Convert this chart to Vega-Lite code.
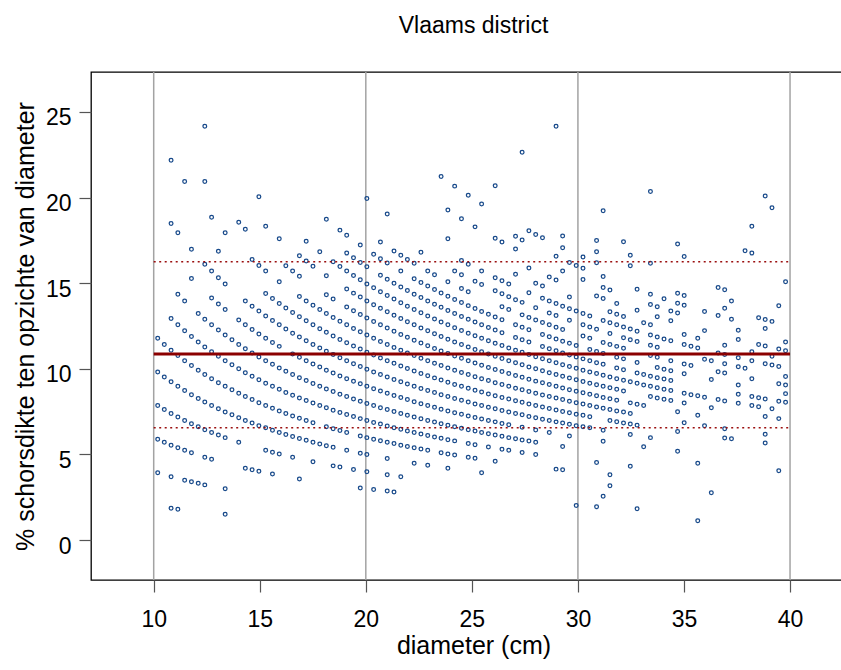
{
"$schema": "https://vega.github.io/schema/vega-lite/v6.json",
"width": 765,
"height": 508,
"autosize": {"type": "none"},
"padding": {"left": 91, "top": 72, "right": -15, "bottom": 90},
"background": "white",
"title": {"text": "Vlaams district", "font": "Liberation Sans", "fontSize": 23, "fontWeight": "normal", "color": "black", "anchor": "middle", "frame": "group", "baseline": "alphabetic", "offset": 15},
"config": {
  "view": {"stroke": "black", "strokeWidth": 1.3},
  "axis": {"domain": false, "grid": false, "tickColor": "#555555", "tickWidth": 1.2, "tickSize": 12, "labelFont": "Liberation Sans", "labelFontSize": 23, "labelColor": "black", "titleFont": "Liberation Sans", "titleFontSize": 25, "titleFontWeight": "normal", "titleColor": "black", "labelOverlap": false, "labelFlush": false}
},
"datasets": {
"pts": [
{"d":10.19,"p":3.93},{"d":10.19,"p":5.89},{"d":10.19,"p":7.85},{"d":10.19,"p":9.82},{"d":10.19,"p":11.78},
{"d":10.50,"p":5.71},{"d":10.50,"p":7.62},{"d":10.50,"p":9.52},{"d":10.50,"p":11.42},
{"d":10.82,"p":1.85},{"d":10.82,"p":3.70},{"d":10.82,"p":5.54},{"d":10.82,"p":7.39},{"d":10.82,"p":9.24},{"d":10.82,"p":11.09},{"d":10.82,"p":12.94},{"d":10.82,"p":18.48},{"d":10.82,"p":22.18},
{"d":11.14,"p":1.80},{"d":11.14,"p":5.39},{"d":11.14,"p":7.18},{"d":11.14,"p":8.98},{"d":11.14,"p":10.77},{"d":11.14,"p":12.57},{"d":11.14,"p":14.36},{"d":11.14,"p":17.95},
{"d":11.46,"p":3.49},{"d":11.46,"p":5.24},{"d":11.46,"p":6.98},{"d":11.46,"p":8.73},{"d":11.46,"p":10.47},{"d":11.46,"p":12.22},{"d":11.46,"p":13.96},{"d":11.46,"p":20.94},
{"d":11.78,"p":3.40},{"d":11.78,"p":5.09},{"d":11.78,"p":6.79},{"d":11.78,"p":8.49},{"d":11.78,"p":10.19},{"d":11.78,"p":11.89},{"d":11.78,"p":15.28},{"d":11.78,"p":16.98},
{"d":12.10,"p":3.31},{"d":12.10,"p":6.61},{"d":12.10,"p":8.27},{"d":12.10,"p":9.92},{"d":12.10,"p":11.57},{"d":12.10,"p":13.23},
{"d":12.41,"p":3.22},{"d":12.41,"p":4.83},{"d":12.41,"p":6.44},{"d":12.41,"p":8.06},{"d":12.41,"p":9.67},{"d":12.41,"p":11.28},{"d":12.41,"p":12.89},{"d":12.41,"p":16.11},{"d":12.41,"p":20.94},{"d":12.41,"p":24.17},
{"d":12.73,"p":4.71},{"d":12.73,"p":6.28},{"d":12.73,"p":7.85},{"d":12.73,"p":9.42},{"d":12.73,"p":11.00},{"d":12.73,"p":12.57},{"d":12.73,"p":14.14},{"d":12.73,"p":15.71},{"d":12.73,"p":18.85},
{"d":13.05,"p":6.13},{"d":13.05,"p":7.66},{"d":13.05,"p":9.19},{"d":13.05,"p":10.73},{"d":13.05,"p":12.26},{"d":13.05,"p":13.79},{"d":13.05,"p":15.32},{"d":13.05,"p":16.86},
{"d":13.37,"p":1.50},{"d":13.37,"p":2.99},{"d":13.37,"p":5.98},{"d":13.37,"p":7.48},{"d":13.37,"p":8.98},{"d":13.37,"p":10.47},{"d":13.37,"p":11.97},{"d":13.37,"p":13.46},{"d":13.37,"p":14.96},{"d":13.37,"p":17.95},
{"d":13.69,"p":7.31},{"d":13.69,"p":8.77},{"d":13.69,"p":10.23},{"d":13.69,"p":11.69},
{"d":14.01,"p":5.71},{"d":14.01,"p":7.14},{"d":14.01,"p":8.57},{"d":14.01,"p":10.00},{"d":14.01,"p":11.42},{"d":14.01,"p":12.85},{"d":14.01,"p":18.56},
{"d":14.32,"p":4.19},{"d":14.32,"p":6.98},{"d":14.32,"p":8.38},{"d":14.32,"p":9.77},{"d":14.32,"p":11.17},{"d":14.32,"p":12.57},{"d":14.32,"p":13.96},{"d":14.32,"p":18.15},
{"d":14.64,"p":4.10},{"d":14.64,"p":6.83},{"d":14.64,"p":8.20},{"d":14.64,"p":9.56},{"d":14.64,"p":10.93},{"d":14.64,"p":12.29},{"d":14.64,"p":13.66},{"d":14.64,"p":16.39},
{"d":14.96,"p":4.01},{"d":14.96,"p":6.68},{"d":14.96,"p":8.02},{"d":14.96,"p":9.36},{"d":14.96,"p":10.69},{"d":14.96,"p":12.03},{"d":14.96,"p":13.37},{"d":14.96,"p":16.04},{"d":14.96,"p":20.05},
{"d":15.28,"p":5.24},{"d":15.28,"p":6.55},{"d":15.28,"p":7.85},{"d":15.28,"p":9.16},{"d":15.28,"p":10.47},{"d":15.28,"p":11.78},{"d":15.28,"p":13.09},{"d":15.28,"p":14.40},{"d":15.28,"p":15.71},{"d":15.28,"p":18.33},
{"d":15.60,"p":3.85},{"d":15.60,"p":5.13},{"d":15.60,"p":6.41},{"d":15.60,"p":7.69},{"d":15.60,"p":8.98},{"d":15.60,"p":10.26},{"d":15.60,"p":11.54},{"d":15.60,"p":12.82},{"d":15.60,"p":14.11},
{"d":15.92,"p":5.03},{"d":15.92,"p":6.28},{"d":15.92,"p":7.54},{"d":15.92,"p":8.80},{"d":15.92,"p":10.05},{"d":15.92,"p":11.31},{"d":15.92,"p":12.57},{"d":15.92,"p":13.82},{"d":15.92,"p":15.08},{"d":15.92,"p":17.59},
{"d":16.23,"p":6.16},{"d":16.23,"p":7.39},{"d":16.23,"p":8.62},{"d":16.23,"p":9.86},{"d":16.23,"p":12.32},{"d":16.23,"p":13.55},{"d":16.23,"p":16.02},
{"d":16.55,"p":4.83},{"d":16.55,"p":6.04},{"d":16.55,"p":7.25},{"d":16.55,"p":8.46},{"d":16.55,"p":9.67},{"d":16.55,"p":10.87},{"d":16.55,"p":12.08},{"d":16.55,"p":13.29},{"d":16.55,"p":15.71},
{"d":16.87,"p":3.56},{"d":16.87,"p":5.93},{"d":16.87,"p":7.11},{"d":16.87,"p":8.30},{"d":16.87,"p":9.48},{"d":16.87,"p":10.67},{"d":16.87,"p":11.86},{"d":16.87,"p":13.04},{"d":16.87,"p":14.23},{"d":16.87,"p":15.41},{"d":16.87,"p":16.60},
{"d":17.19,"p":5.82},{"d":17.19,"p":6.98},{"d":17.19,"p":8.15},{"d":17.19,"p":9.31},{"d":17.19,"p":10.47},{"d":17.19,"p":11.64},{"d":17.19,"p":12.80},{"d":17.19,"p":13.96},{"d":17.19,"p":16.29},{"d":17.19,"p":17.45},
{"d":17.51,"p":4.57},{"d":17.51,"p":5.71},{"d":17.51,"p":6.85},{"d":17.51,"p":8.00},{"d":17.51,"p":9.14},{"d":17.51,"p":10.28},{"d":17.51,"p":11.42},{"d":17.51,"p":12.57},{"d":17.51,"p":13.71},{"d":17.51,"p":15.99},
{"d":17.83,"p":5.61},{"d":17.83,"p":7.85},{"d":17.83,"p":8.98},{"d":17.83,"p":10.10},{"d":17.83,"p":11.22},{"d":17.83,"p":12.34},{"d":17.83,"p":13.46},{"d":17.83,"p":16.83},
{"d":18.14,"p":5.51},{"d":18.14,"p":6.61},{"d":18.14,"p":7.72},{"d":18.14,"p":8.82},{"d":18.14,"p":9.92},{"d":18.14,"p":11.02},{"d":18.14,"p":12.13},{"d":18.14,"p":13.23},{"d":18.14,"p":14.33},{"d":18.14,"p":15.43},{"d":18.14,"p":18.74},
{"d":18.46,"p":4.33},{"d":18.46,"p":5.42},{"d":18.46,"p":6.50},{"d":18.46,"p":7.58},{"d":18.46,"p":8.67},{"d":18.46,"p":9.75},{"d":18.46,"p":10.83},{"d":18.46,"p":11.92},{"d":18.46,"p":13.00},{"d":18.46,"p":14.08},{"d":18.46,"p":16.25},
{"d":18.78,"p":4.26},{"d":18.78,"p":6.39},{"d":18.78,"p":7.45},{"d":18.78,"p":8.52},{"d":18.78,"p":9.58},{"d":18.78,"p":10.65},{"d":18.78,"p":11.71},{"d":18.78,"p":12.78},{"d":18.78,"p":15.97},{"d":18.78,"p":18.10},
{"d":19.10,"p":5.24},{"d":19.10,"p":6.28},{"d":19.10,"p":7.33},{"d":19.10,"p":8.38},{"d":19.10,"p":9.42},{"d":19.10,"p":10.47},{"d":19.10,"p":11.52},{"d":19.10,"p":12.57},{"d":19.10,"p":13.61},{"d":19.10,"p":14.66},{"d":19.10,"p":15.71},{"d":19.10,"p":16.76},{"d":19.10,"p":17.80},
{"d":19.42,"p":4.12},{"d":19.42,"p":7.21},{"d":19.42,"p":8.24},{"d":19.42,"p":9.27},{"d":19.42,"p":10.30},{"d":19.42,"p":11.33},{"d":19.42,"p":12.36},{"d":19.42,"p":13.39},{"d":19.42,"p":14.42},{"d":19.42,"p":15.45},{"d":19.42,"p":16.48},
{"d":19.74,"p":3.04},{"d":19.74,"p":5.07},{"d":19.74,"p":6.08},{"d":19.74,"p":7.09},{"d":19.74,"p":8.11},{"d":19.74,"p":9.12},{"d":19.74,"p":10.13},{"d":19.74,"p":11.15},{"d":19.74,"p":12.16},{"d":19.74,"p":13.17},{"d":19.74,"p":14.19},{"d":19.74,"p":15.20},{"d":19.74,"p":16.21},{"d":19.74,"p":17.23},
{"d":20.05,"p":3.99},{"d":20.05,"p":4.99},{"d":20.05,"p":5.98},{"d":20.05,"p":6.98},{"d":20.05,"p":7.98},{"d":20.05,"p":8.98},{"d":20.05,"p":9.97},{"d":20.05,"p":10.97},{"d":20.05,"p":11.97},{"d":20.05,"p":12.97},{"d":20.05,"p":13.96},{"d":20.05,"p":14.96},{"d":20.05,"p":15.96},{"d":20.05,"p":19.95},
{"d":20.37,"p":2.95},{"d":20.37,"p":5.89},{"d":20.37,"p":6.87},{"d":20.37,"p":7.85},{"d":20.37,"p":8.84},{"d":20.37,"p":9.82},{"d":20.37,"p":10.80},{"d":20.37,"p":11.78},{"d":20.37,"p":12.76},{"d":20.37,"p":13.74},{"d":20.37,"p":14.73},{"d":20.37,"p":16.69},
{"d":20.69,"p":5.80},{"d":20.69,"p":6.77},{"d":20.69,"p":7.73},{"d":20.69,"p":8.70},{"d":20.69,"p":9.67},{"d":20.69,"p":10.63},{"d":20.69,"p":11.60},{"d":20.69,"p":12.57},{"d":20.69,"p":13.53},{"d":20.69,"p":14.50},{"d":20.69,"p":15.47},{"d":20.69,"p":16.43},{"d":20.69,"p":17.40},
{"d":21.01,"p":2.86},{"d":21.01,"p":3.81},{"d":21.01,"p":4.76},{"d":21.01,"p":5.71},{"d":21.01,"p":6.66},{"d":21.01,"p":7.62},{"d":21.01,"p":8.57},{"d":21.01,"p":9.52},{"d":21.01,"p":10.47},{"d":21.01,"p":11.42},{"d":21.01,"p":12.38},{"d":21.01,"p":13.33},{"d":21.01,"p":14.28},{"d":21.01,"p":15.23},{"d":21.01,"p":16.18},{"d":21.01,"p":19.04},
{"d":21.33,"p":2.81},{"d":21.33,"p":5.63},{"d":21.33,"p":6.56},{"d":21.33,"p":7.50},{"d":21.33,"p":8.44},{"d":21.33,"p":9.38},{"d":21.33,"p":10.32},{"d":21.33,"p":11.25},{"d":21.33,"p":12.19},{"d":21.33,"p":13.13},{"d":21.33,"p":14.07},{"d":21.33,"p":15.00},{"d":21.33,"p":16.88},
{"d":21.65,"p":3.70},{"d":21.65,"p":5.54},{"d":21.65,"p":6.47},{"d":21.65,"p":7.39},{"d":21.65,"p":8.32},{"d":21.65,"p":9.24},{"d":21.65,"p":10.16},{"d":21.65,"p":11.09},{"d":21.65,"p":12.01},{"d":21.65,"p":12.94},{"d":21.65,"p":13.86},{"d":21.65,"p":14.78},{"d":21.65,"p":15.71},{"d":21.65,"p":16.63},
{"d":21.96,"p":5.46},{"d":21.96,"p":6.37},{"d":21.96,"p":7.28},{"d":21.96,"p":8.20},{"d":21.96,"p":9.11},{"d":21.96,"p":10.02},{"d":21.96,"p":10.93},{"d":21.96,"p":11.84},{"d":21.96,"p":12.75},{"d":21.96,"p":13.66},{"d":21.96,"p":14.57},{"d":21.96,"p":16.39},
{"d":22.28,"p":4.49},{"d":22.28,"p":5.39},{"d":22.28,"p":6.28},{"d":22.28,"p":7.18},{"d":22.28,"p":8.08},{"d":22.28,"p":8.98},{"d":22.28,"p":9.87},{"d":22.28,"p":10.77},{"d":22.28,"p":11.67},{"d":22.28,"p":12.57},{"d":22.28,"p":13.46},{"d":22.28,"p":14.36},{"d":22.28,"p":15.26},{"d":22.28,"p":16.16},
{"d":22.60,"p":5.31},{"d":22.60,"p":6.19},{"d":22.60,"p":7.08},{"d":22.60,"p":7.96},{"d":22.60,"p":8.85},{"d":22.60,"p":9.73},{"d":22.60,"p":10.62},{"d":22.60,"p":11.50},{"d":22.60,"p":12.39},{"d":22.60,"p":13.27},{"d":22.60,"p":14.16},{"d":22.60,"p":15.04},{"d":22.60,"p":16.81},
{"d":22.92,"p":4.36},{"d":22.92,"p":5.24},{"d":22.92,"p":6.11},{"d":22.92,"p":6.98},{"d":22.92,"p":7.85},{"d":22.92,"p":8.73},{"d":22.92,"p":9.60},{"d":22.92,"p":10.47},{"d":22.92,"p":11.34},{"d":22.92,"p":12.22},{"d":22.92,"p":13.09},{"d":22.92,"p":13.96},{"d":22.92,"p":14.84},{"d":22.92,"p":15.71},
{"d":23.24,"p":6.02},{"d":23.24,"p":6.89},{"d":23.24,"p":7.75},{"d":23.24,"p":8.61},{"d":23.24,"p":9.47},{"d":23.24,"p":10.33},{"d":23.24,"p":11.19},{"d":23.24,"p":12.05},{"d":23.24,"p":12.91},{"d":23.24,"p":13.77},{"d":23.24,"p":14.63},{"d":23.24,"p":15.49},
{"d":23.55,"p":5.09},{"d":23.55,"p":5.94},{"d":23.55,"p":6.79},{"d":23.55,"p":7.64},{"d":23.55,"p":8.49},{"d":23.55,"p":9.34},{"d":23.55,"p":10.19},{"d":23.55,"p":11.04},{"d":23.55,"p":11.89},{"d":23.55,"p":12.74},{"d":23.55,"p":13.59},{"d":23.55,"p":14.43},{"d":23.55,"p":21.23},
{"d":23.87,"p":4.19},{"d":23.87,"p":5.03},{"d":23.87,"p":5.86},{"d":23.87,"p":6.70},{"d":23.87,"p":7.54},{"d":23.87,"p":8.38},{"d":23.87,"p":9.22},{"d":23.87,"p":10.05},{"d":23.87,"p":10.89},{"d":23.87,"p":11.73},{"d":23.87,"p":12.57},{"d":23.87,"p":13.40},{"d":23.87,"p":14.24},{"d":23.87,"p":15.08},{"d":23.87,"p":17.59},{"d":23.87,"p":19.27},
{"d":24.19,"p":4.96},{"d":24.19,"p":5.79},{"d":24.19,"p":6.61},{"d":24.19,"p":7.44},{"d":24.19,"p":8.27},{"d":24.19,"p":9.09},{"d":24.19,"p":9.92},{"d":24.19,"p":10.75},{"d":24.19,"p":11.57},{"d":24.19,"p":12.40},{"d":24.19,"p":13.23},{"d":24.19,"p":14.05},{"d":24.19,"p":15.71},{"d":24.19,"p":20.67},
{"d":24.51,"p":6.53},{"d":24.51,"p":7.34},{"d":24.51,"p":8.16},{"d":24.51,"p":8.98},{"d":24.51,"p":9.79},{"d":24.51,"p":10.61},{"d":24.51,"p":11.42},{"d":24.51,"p":12.24},{"d":24.51,"p":13.06},{"d":24.51,"p":13.87},{"d":24.51,"p":14.69},{"d":24.51,"p":15.50},{"d":24.51,"p":16.32},{"d":24.51,"p":18.77},
{"d":24.83,"p":4.83},{"d":24.83,"p":5.64},{"d":24.83,"p":6.44},{"d":24.83,"p":7.25},{"d":24.83,"p":8.06},{"d":24.83,"p":8.86},{"d":24.83,"p":9.67},{"d":24.83,"p":10.47},{"d":24.83,"p":11.28},{"d":24.83,"p":12.08},{"d":24.83,"p":12.89},{"d":24.83,"p":13.69},{"d":24.83,"p":14.50},{"d":24.83,"p":16.11},{"d":24.83,"p":20.14},
{"d":25.15,"p":4.77},{"d":25.15,"p":5.57},{"d":25.15,"p":6.36},{"d":25.15,"p":7.16},{"d":25.15,"p":7.95},{"d":25.15,"p":8.75},{"d":25.15,"p":9.54},{"d":25.15,"p":10.34},{"d":25.15,"p":11.13},{"d":25.15,"p":11.93},{"d":25.15,"p":12.73},{"d":25.15,"p":13.52},{"d":25.15,"p":15.11},{"d":25.15,"p":18.29},
{"d":25.46,"p":3.93},{"d":25.46,"p":6.28},{"d":25.46,"p":7.07},{"d":25.46,"p":7.85},{"d":25.46,"p":8.64},{"d":25.46,"p":9.42},{"d":25.46,"p":10.21},{"d":25.46,"p":11.00},{"d":25.46,"p":11.78},{"d":25.46,"p":12.57},{"d":25.46,"p":13.35},{"d":25.46,"p":14.92},{"d":25.46,"p":15.71},{"d":25.46,"p":19.63},
{"d":25.78,"p":5.43},{"d":25.78,"p":6.21},{"d":25.78,"p":6.98},{"d":25.78,"p":7.76},{"d":25.78,"p":8.53},{"d":25.78,"p":9.31},{"d":25.78,"p":10.08},{"d":25.78,"p":10.86},{"d":25.78,"p":11.64},{"d":25.78,"p":12.41},{"d":25.78,"p":13.19},
{"d":26.10,"p":4.60},{"d":26.10,"p":6.13},{"d":26.10,"p":6.90},{"d":26.10,"p":7.66},{"d":26.10,"p":8.43},{"d":26.10,"p":9.19},{"d":26.10,"p":9.96},{"d":26.10,"p":10.73},{"d":26.10,"p":11.49},{"d":26.10,"p":12.26},{"d":26.10,"p":13.03},{"d":26.10,"p":14.56},{"d":26.10,"p":15.32},{"d":26.10,"p":17.62},{"d":26.10,"p":20.69},
{"d":26.42,"p":5.30},{"d":26.42,"p":6.06},{"d":26.42,"p":6.81},{"d":26.42,"p":7.57},{"d":26.42,"p":8.33},{"d":26.42,"p":9.08},{"d":26.42,"p":9.84},{"d":26.42,"p":10.60},{"d":26.42,"p":11.36},{"d":26.42,"p":12.11},{"d":26.42,"p":12.87},{"d":26.42,"p":13.63},{"d":26.42,"p":14.38},{"d":26.42,"p":15.14},{"d":26.42,"p":17.41},
{"d":26.74,"p":5.24},{"d":26.74,"p":5.98},{"d":26.74,"p":6.73},{"d":26.74,"p":7.48},{"d":26.74,"p":8.23},{"d":26.74,"p":8.98},{"d":26.74,"p":9.72},{"d":26.74,"p":10.47},{"d":26.74,"p":11.22},{"d":26.74,"p":13.46},{"d":26.74,"p":14.21},{"d":26.74,"p":14.96},
{"d":27.06,"p":5.91},{"d":27.06,"p":7.39},{"d":27.06,"p":8.13},{"d":27.06,"p":8.87},{"d":27.06,"p":9.61},{"d":27.06,"p":10.35},{"d":27.06,"p":11.09},{"d":27.06,"p":11.83},{"d":27.06,"p":12.57},{"d":27.06,"p":14.04},{"d":27.06,"p":15.52},{"d":27.06,"p":17.00},{"d":27.06,"p":17.74},
{"d":27.37,"p":5.11},{"d":27.37,"p":5.84},{"d":27.37,"p":6.58},{"d":27.37,"p":7.31},{"d":27.37,"p":8.04},{"d":27.37,"p":8.77},{"d":27.37,"p":9.50},{"d":27.37,"p":10.23},{"d":27.37,"p":10.96},{"d":27.37,"p":11.69},{"d":27.37,"p":12.42},{"d":27.37,"p":13.15},{"d":27.37,"p":13.88},{"d":27.37,"p":17.53},{"d":27.37,"p":22.65},
{"d":27.69,"p":5.78},{"d":27.69,"p":7.22},{"d":27.69,"p":7.94},{"d":27.69,"p":8.67},{"d":27.69,"p":9.39},{"d":27.69,"p":10.11},{"d":27.69,"p":10.83},{"d":27.69,"p":11.56},{"d":27.69,"p":12.28},{"d":27.69,"p":13.00},{"d":27.69,"p":14.44},{"d":27.69,"p":15.89},{"d":27.69,"p":18.06},
{"d":28.01,"p":5.00},{"d":28.01,"p":5.71},{"d":28.01,"p":6.43},{"d":28.01,"p":7.14},{"d":28.01,"p":7.85},{"d":28.01,"p":8.57},{"d":28.01,"p":9.28},{"d":28.01,"p":10.00},{"d":28.01,"p":10.71},{"d":28.01,"p":12.85},{"d":28.01,"p":13.57},{"d":28.01,"p":14.99},{"d":28.01,"p":17.85},
{"d":28.33,"p":7.06},{"d":28.33,"p":7.77},{"d":28.33,"p":8.47},{"d":28.33,"p":9.18},{"d":28.33,"p":9.88},{"d":28.33,"p":10.59},{"d":28.33,"p":11.30},{"d":28.33,"p":12.00},{"d":28.33,"p":12.71},{"d":28.33,"p":14.12},{"d":28.33,"p":14.83},{"d":28.33,"p":17.65},
{"d":28.65,"p":6.28},{"d":28.65,"p":6.98},{"d":28.65,"p":7.68},{"d":28.65,"p":8.38},{"d":28.65,"p":9.08},{"d":28.65,"p":9.77},{"d":28.65,"p":10.47},{"d":28.65,"p":11.17},{"d":28.65,"p":11.87},{"d":28.65,"p":12.57},{"d":28.65,"p":13.26},{"d":28.65,"p":13.96},{"d":28.65,"p":15.36},
{"d":28.97,"p":4.14},{"d":28.97,"p":6.90},{"d":28.97,"p":7.60},{"d":28.97,"p":8.29},{"d":28.97,"p":8.98},{"d":28.97,"p":9.67},{"d":28.97,"p":10.36},{"d":28.97,"p":11.05},{"d":28.97,"p":11.74},{"d":28.97,"p":12.43},{"d":28.97,"p":13.12},{"d":28.97,"p":13.81},{"d":28.97,"p":15.19},{"d":28.97,"p":16.57},{"d":28.97,"p":24.17},
{"d":29.28,"p":4.10},{"d":29.28,"p":5.46},{"d":29.28,"p":6.83},{"d":29.28,"p":7.51},{"d":29.28,"p":8.20},{"d":29.28,"p":8.88},{"d":29.28,"p":9.56},{"d":29.28,"p":10.24},{"d":29.28,"p":10.93},{"d":29.28,"p":11.61},{"d":29.28,"p":12.29},{"d":29.28,"p":13.66},{"d":29.28,"p":15.71},{"d":29.28,"p":17.07},{"d":29.28,"p":17.76},
{"d":29.60,"p":6.08},{"d":29.60,"p":6.76},{"d":29.60,"p":7.43},{"d":29.60,"p":8.11},{"d":29.60,"p":8.78},{"d":29.60,"p":9.46},{"d":29.60,"p":10.13},{"d":29.60,"p":10.81},{"d":29.60,"p":11.49},{"d":29.60,"p":12.84},{"d":29.60,"p":13.51},{"d":29.60,"p":14.19},{"d":29.60,"p":16.21},
{"d":29.92,"p":2.01},{"d":29.92,"p":6.68},{"d":29.92,"p":7.35},{"d":29.92,"p":8.02},{"d":29.92,"p":8.69},{"d":29.92,"p":9.36},{"d":29.92,"p":10.03},{"d":29.92,"p":10.69},{"d":29.92,"p":11.36},{"d":29.92,"p":13.37},{"d":29.92,"p":16.04},
{"d":30.24,"p":6.61},{"d":30.24,"p":7.28},{"d":30.24,"p":7.94},{"d":30.24,"p":8.60},{"d":30.24,"p":9.26},{"d":30.24,"p":9.92},{"d":30.24,"p":10.58},{"d":30.24,"p":11.91},{"d":30.24,"p":12.57},{"d":30.24,"p":13.23},{"d":30.24,"p":15.21},{"d":30.24,"p":15.87},{"d":30.24,"p":16.53},
{"d":30.56,"p":6.55},{"d":30.56,"p":7.20},{"d":30.56,"p":7.85},{"d":30.56,"p":8.51},{"d":30.56,"p":9.16},{"d":30.56,"p":9.82},{"d":30.56,"p":10.47},{"d":30.56,"p":11.13},{"d":30.56,"p":11.78},{"d":30.56,"p":12.44},{"d":30.56,"p":13.09},
{"d":30.88,"p":1.94},{"d":30.88,"p":4.53},{"d":30.88,"p":7.77},{"d":30.88,"p":8.42},{"d":30.88,"p":9.07},{"d":30.88,"p":9.72},{"d":30.88,"p":10.36},{"d":30.88,"p":11.01},{"d":30.88,"p":12.31},{"d":30.88,"p":14.25},{"d":30.88,"p":16.19},{"d":30.88,"p":16.84},{"d":30.88,"p":17.49},
{"d":31.19,"p":2.56},{"d":31.19,"p":5.77},{"d":31.19,"p":6.41},{"d":31.19,"p":7.69},{"d":31.19,"p":8.33},{"d":31.19,"p":8.98},{"d":31.19,"p":9.62},{"d":31.19,"p":10.26},{"d":31.19,"p":10.90},{"d":31.19,"p":11.54},{"d":31.19,"p":12.82},{"d":31.19,"p":14.10},{"d":31.19,"p":14.75},{"d":31.19,"p":15.39},{"d":31.19,"p":19.23},
{"d":31.51,"p":3.17},{"d":31.51,"p":3.81},{"d":31.51,"p":6.98},{"d":31.51,"p":7.62},{"d":31.51,"p":8.25},{"d":31.51,"p":8.89},{"d":31.51,"p":9.52},{"d":31.51,"p":11.42},{"d":31.51,"p":12.06},{"d":31.51,"p":12.69},{"d":31.51,"p":13.33},{"d":31.51,"p":14.60},
{"d":31.83,"p":6.91},{"d":31.83,"p":7.54},{"d":31.83,"p":8.17},{"d":31.83,"p":8.80},{"d":31.83,"p":9.42},{"d":31.83,"p":10.05},{"d":31.83,"p":10.68},{"d":31.83,"p":11.31},{"d":31.83,"p":12.57},{"d":31.83,"p":13.19},{"d":31.83,"p":13.82},
{"d":32.15,"p":6.84},{"d":32.15,"p":7.47},{"d":32.15,"p":8.71},{"d":32.15,"p":9.33},{"d":32.15,"p":9.95},{"d":32.15,"p":10.58},{"d":32.15,"p":11.20},{"d":32.15,"p":11.82},{"d":32.15,"p":12.44},{"d":32.15,"p":13.06},{"d":32.15,"p":17.42},
{"d":32.47,"p":4.31},{"d":32.47,"p":6.16},{"d":32.47,"p":6.78},{"d":32.47,"p":7.39},{"d":32.47,"p":8.01},{"d":32.47,"p":9.24},{"d":32.47,"p":11.70},{"d":32.47,"p":12.32},{"d":32.47,"p":16.02},{"d":32.47,"p":16.63},
{"d":32.79,"p":1.83},{"d":32.79,"p":6.71},{"d":32.79,"p":7.93},{"d":32.79,"p":9.15},{"d":32.79,"p":9.76},{"d":32.79,"p":10.37},{"d":32.79,"p":11.59},{"d":32.79,"p":12.20},{"d":32.79,"p":13.42},{"d":32.79,"p":14.64},
{"d":33.10,"p":5.44},{"d":33.10,"p":7.85},{"d":33.10,"p":9.06},{"d":33.10,"p":9.67},{"d":33.10,"p":12.69},
{"d":33.42,"p":5.98},{"d":33.42,"p":8.38},{"d":33.42,"p":8.98},{"d":33.42,"p":9.57},{"d":33.42,"p":10.77},{"d":33.42,"p":11.37},{"d":33.42,"p":11.97},{"d":33.42,"p":12.57},{"d":33.42,"p":13.76},{"d":33.42,"p":14.36},{"d":33.42,"p":16.16},{"d":33.42,"p":20.35},
{"d":33.74,"p":8.30},{"d":33.74,"p":8.89},{"d":33.74,"p":9.48},{"d":33.74,"p":10.08},{"d":33.74,"p":10.67},{"d":33.74,"p":11.26},{"d":33.74,"p":11.86},{"d":33.74,"p":13.04},{"d":33.74,"p":13.63},
{"d":34.06,"p":8.22},{"d":34.06,"p":8.81},{"d":34.06,"p":9.40},{"d":34.06,"p":9.98},{"d":34.06,"p":11.74},{"d":34.06,"p":14.09},
{"d":34.38,"p":8.15},{"d":34.38,"p":8.73},{"d":34.38,"p":9.31},{"d":34.38,"p":9.89},{"d":34.38,"p":10.47},{"d":34.38,"p":11.64},{"d":34.38,"p":12.80},{"d":34.38,"p":13.38},
{"d":34.70,"p":5.19},{"d":34.70,"p":6.34},{"d":34.70,"p":7.49},{"d":34.70,"p":13.26},{"d":34.70,"p":13.83},{"d":34.70,"p":14.41},{"d":34.70,"p":17.29},
{"d":35.01,"p":6.85},{"d":35.01,"p":8.00},{"d":35.01,"p":8.57},{"d":35.01,"p":9.71},{"d":35.01,"p":10.28},{"d":35.01,"p":11.42},{"d":35.01,"p":12.00},{"d":35.01,"p":13.71},{"d":35.01,"p":14.28},{"d":35.01,"p":16.56},
{"d":35.33,"p":8.49},{"d":35.33,"p":10.19},{"d":35.33,"p":11.32},
{"d":35.65,"p":1.12},{"d":35.65,"p":4.49},{"d":35.65,"p":7.29},{"d":35.65,"p":8.42},{"d":35.65,"p":11.22},{"d":35.65,"p":11.78},
{"d":35.97,"p":6.67},{"d":35.97,"p":8.34},{"d":35.97,"p":10.56},{"d":35.97,"p":12.23},{"d":35.97,"p":13.34},
{"d":36.29,"p":2.76},{"d":36.29,"p":7.72},{"d":36.29,"p":9.37},{"d":36.29,"p":10.47},
{"d":36.61,"p":8.20},{"d":36.61,"p":9.83},{"d":36.61,"p":10.93},{"d":36.61,"p":13.11},{"d":36.61,"p":14.75},
{"d":36.92,"p":5.96},{"d":36.92,"p":6.50},{"d":36.92,"p":8.12},{"d":36.92,"p":9.75},{"d":36.92,"p":10.29},{"d":36.92,"p":10.83},{"d":36.92,"p":11.37},{"d":36.92,"p":13.54},{"d":36.92,"p":14.62},
{"d":37.24,"p":5.91},{"d":37.24,"p":12.89},{"d":37.24,"p":13.96},
{"d":37.56,"p":7.99},{"d":37.56,"p":8.52},{"d":37.56,"p":9.05},{"d":37.56,"p":10.12},{"d":37.56,"p":10.65},{"d":37.56,"p":11.71},{"d":37.56,"p":12.25},
{"d":37.88,"p":10.03},{"d":37.88,"p":16.90},
{"d":38.20,"p":7.85},{"d":38.20,"p":8.38},{"d":38.20,"p":9.42},{"d":38.20,"p":10.47},{"d":38.20,"p":11.00},{"d":38.20,"p":16.76},{"d":38.20,"p":18.33},
{"d":38.52,"p":7.79},{"d":38.52,"p":8.31},{"d":38.52,"p":11.42},{"d":38.52,"p":12.98},
{"d":38.83,"p":5.67},{"d":38.83,"p":6.18},{"d":38.83,"p":7.21},{"d":38.83,"p":8.24},{"d":38.83,"p":10.30},{"d":38.83,"p":11.33},{"d":38.83,"p":12.36},{"d":38.83,"p":12.88},{"d":38.83,"p":20.09},
{"d":39.15,"p":7.66},{"d":39.15,"p":10.22},{"d":39.15,"p":10.73},{"d":39.15,"p":12.77},{"d":39.15,"p":19.41},
{"d":39.47,"p":4.05},{"d":39.47,"p":7.09},{"d":39.47,"p":8.11},{"d":39.47,"p":9.12},{"d":39.47,"p":10.13},{"d":39.47,"p":11.15},{"d":39.47,"p":13.68},
{"d":39.79,"p":8.04},{"d":39.79,"p":8.55},{"d":39.79,"p":9.05},{"d":39.79,"p":9.55},{"d":39.79,"p":11.06},{"d":39.79,"p":11.56},{"d":39.79,"p":15.08}
]
},
"layer": [
  {
    "data": {"values": [{"v": 10}, {"v": 20}, {"v": 30}, {"v": 40}]},
    "mark": {"type": "rule", "color": "#A3A3A3", "strokeWidth": 1.5},
    "encoding": {
      "x": {"field": "v", "type": "quantitative", "title": "diameter (cm)", "scale": {"domain": [7.044, 43.11], "nice": false, "zero": false}}
    }
  },
  {
    "data": {"name": "pts"},
    "mark": {"type": "point", "shape": "circle", "filled": false, "color": "#17498A", "size": 14, "strokeWidth": 1.25, "opacity": 1},
    "encoding": {
      "x": {"field": "d", "type": "quantitative", "scale": {"domain": [7.044, 43.11], "nice": false, "zero": false},
            "axis": {"values": [10, 15, 20, 25, 30, 35, 40], "title": "diameter (cm)", "labelBaseline": "alphabetic", "labelPadding": 34.5, "titleBaseline": "alphabetic", "titleY": 73.5}},
      "y": {"field": "p", "type": "quantitative", "scale": {"domain": [-2.336, 27.336], "nice": false, "zero": false},
            "axis": {"values": [0, 5, 10, 15, 20, 25], "title": "% schorsdikte ten opzichte van diameter", "labelAngle": 0, "labelAlign": "right", "labelBaseline": "alphabetic", "labelOffset": 13, "labelPadding": 8, "titleBaseline": "alphabetic", "titleAngle": 270, "titleX": -57.7, "titleY": 254}}
    }
  },
  {
    "data": {"values": [{"a": 10, "b": 40, "y": 16.26}, {"a": 10, "b": 40, "y": 6.56}]},
    "mark": {"type": "rule", "color": "#9B0F0F", "strokeWidth": 1.5, "strokeDash": [2, 3.5]},
    "encoding": {
      "x": {"field": "a", "type": "quantitative", "title": "diameter (cm)", "scale": {"domain": [7.044, 43.11], "nice": false, "zero": false}},
      "x2": {"field": "b"},
      "y": {"field": "y", "type": "quantitative", "title": "% schorsdikte ten opzichte van diameter", "scale": {"domain": [-2.336, 27.336], "nice": false, "zero": false}}
    }
  },
  {
    "data": {"values": [{"a": 10, "b": 40, "y": 10.86}]},
    "mark": {"type": "rule", "color": "#8B0000", "strokeWidth": 3},
    "encoding": {
      "x": {"field": "a", "type": "quantitative", "title": "diameter (cm)", "scale": {"domain": [7.044, 43.11], "nice": false, "zero": false}},
      "x2": {"field": "b"},
      "y": {"field": "y", "type": "quantitative", "title": "% schorsdikte ten opzichte van diameter", "scale": {"domain": [-2.336, 27.336], "nice": false, "zero": false}}
    }
  }
]
}
